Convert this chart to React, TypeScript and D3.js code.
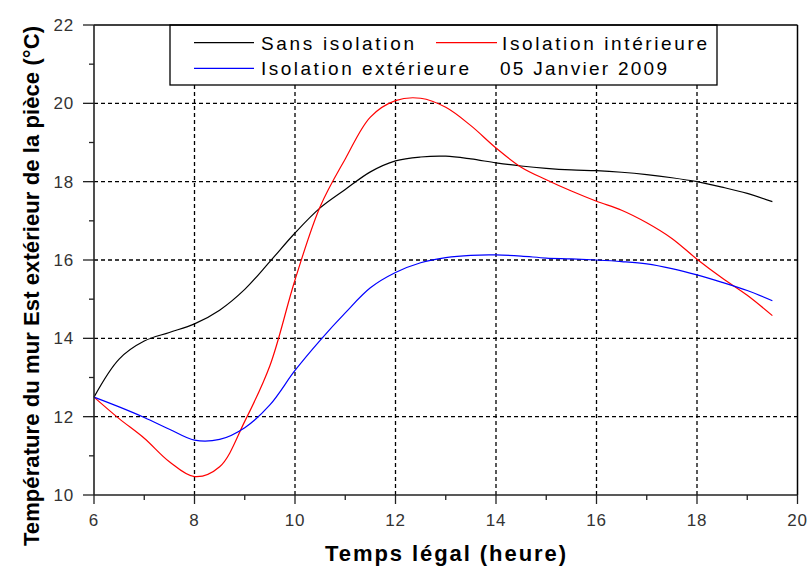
import React from "react";
import * as d3 from "d3";

const hours = [6, 6.5, 7, 7.5, 8, 8.5, 9, 9.5, 10, 10.5, 11, 11.5, 12, 12.5, 13, 13.5, 14, 14.5, 15, 15.5, 16, 16.5, 17, 17.5, 18, 18.5, 19, 19.5];
const sansIsolation = [12.5, 13.47, 13.93, 14.15, 14.37, 14.72, 15.25, 15.96, 16.69, 17.33, 17.8, 18.25, 18.53, 18.63, 18.65, 18.58, 18.48, 18.4, 18.34, 18.3, 18.28, 18.24, 18.18, 18.1, 18.0, 17.86, 17.7, 17.49];
const isolationInterieure = [12.5, 11.95, 11.45, 10.85, 10.47, 10.72, 11.88, 13.3, 15.49, 17.36, 18.58, 19.65, 20.07, 20.13, 19.9, 19.43, 18.86, 18.37, 18.05, 17.76, 17.5, 17.27, 16.95, 16.55, 16.02, 15.54, 15.1, 14.58];
const isolationExterieure = [12.5, 12.25, 11.98, 11.68, 11.4, 11.42, 11.72, 12.3, 13.18, 13.95, 14.65, 15.29, 15.68, 15.93, 16.06, 16.12, 16.13, 16.1, 16.05, 16.03, 16.0, 15.96, 15.9, 15.78, 15.62, 15.43, 15.22, 14.96];

const xMajorTicks = [6, 8, 10, 12, 14, 16, 18, 20];
const xMinorTicks = [7, 9, 11, 13, 15, 17, 19];
const yMajorTicks = [10, 12, 14, 16, 18, 20, 22];
const yMinorTicks = [11, 13, 15, 17, 19, 21];
const xGrid = [8, 10, 12, 14, 16, 18];
const yGrid = [12, 14, 16, 18, 20];

const seriesNames = ["Sans isolation", "Isolation intérieure", "Isolation extérieure"];
const seriesColors = ["#000000", "#ff0000", "#0000ff"];
const dateLabel = "05 Janvier 2009";
const xTitle = "Temps légal (heure)";
const yTitle = "Température du mur Est extérieur de la pièce (°C)";

const FONT = "'Liberation Sans', Arial, sans-serif";

export default function App() {
  const x = d3.scaleLinear().domain([6, 20]).range([94, 797.5]);
  const y = d3.scaleLinear().domain([10, 22]).range([495, 25]);
  const series = [sansIsolation, isolationInterieure, isolationExterieure];
  const line = d3
    .line<[number, number]>()
    .x((d) => x(d[0]))
    .y((d) => y(d[1]))
    .curve(d3.curveCatmullRom.alpha(0.5));

  const x0 = x(6), x1 = x(20), y0 = y(10), y1 = y(22);

  return (
    <svg width={811} height={572} style={{ position: "absolute", left: 0, top: 0, background: "#fff" }}>
      <rect x={0} y={0} width={811} height={572} fill="#fff" />
      {/* grid */}
      {xGrid.map((v) => (
        <line key={"gx" + v} x1={x(v)} x2={x(v)} y1={y0} y2={y1} stroke="#000" strokeWidth={1.3} strokeDasharray="4,3" />
      ))}
      {yGrid.map((v) => (
        <line key={"gy" + v} x1={x0} x2={x1} y1={y(v)} y2={y(v)} stroke="#000" strokeWidth={1.3} strokeDasharray="4,3" />
      ))}
      {/* series */}
      {series.map((s, i) => (
        <path
          key={"s" + i}
          d={line(hours.map((h, j) => [h, s[j]] as [number, number])) || ""}
          fill="none"
          stroke={seriesColors[i]}
          strokeWidth={1.2}
        />
      ))}
      {/* legend */}
      <rect x={170} y={y1} width={547} height={60} fill="#fff" stroke="#000" strokeWidth={1.3} />
      <line x1={194} x2={254} y1={42.7} y2={42.7} stroke={seriesColors[0]} strokeWidth={1.3} />
      <text x={261} y={49.5} fontFamily={FONT} fontSize={19} fill="#000" textLength={153} lengthAdjust="spacing">{seriesNames[0]}</text>
      <line x1={436} x2={497} y1={42.7} y2={42.7} stroke={seriesColors[1]} strokeWidth={1.3} />
      <text x={502} y={49.5} fontFamily={FONT} fontSize={19} fill="#000" textLength={205} lengthAdjust="spacing">{seriesNames[1]}</text>
      <line x1={194} x2={254} y1={68.3} y2={68.3} stroke={seriesColors[2]} strokeWidth={1.3} />
      <text x={261} y={74.5} fontFamily={FONT} fontSize={19} fill="#000" textLength={208} lengthAdjust="spacing">{seriesNames[2]}</text>
      <text x={500} y={74.5} fontFamily={FONT} fontSize={19} fill="#000" textLength={167} lengthAdjust="spacing">{dateLabel}</text>
      {/* frame */}
      <line x1={x0} x2={x1} y1={y1} y2={y1} stroke="#000" strokeWidth={1.3} />
      <line x1={x1} x2={x1} y1={y1} y2={y0} stroke="#000" strokeWidth={1.5} />
      <line x1={x0} x2={x0} y1={y1} y2={y0} stroke="#222" strokeWidth={1.6} />
      <line x1={x0} x2={x1} y1={y0} y2={y0} stroke="#222" strokeWidth={1.6} />
      {/* y ticks */}
      {yMajorTicks.map((v) => (
        <g key={"yt" + v}>
          <line x1={x0 - 11} x2={x0} y1={y(v)} y2={y(v)} stroke="#222" strokeWidth={1.3} />
          <text x={74} y={y(v)} dy="0.36em" textAnchor="end" fontFamily={FONT} fontSize={17} fill="#333" letterSpacing={0.8}>{v}</text>
        </g>
      ))}
      {yMinorTicks.map((v) => (
        <line key={"ym" + v} x1={x0 - 5} x2={x0} y1={y(v)} y2={y(v)} stroke="#222" strokeWidth={1.3} />
      ))}
      {/* x ticks */}
      {xMajorTicks.map((v) => (
        <g key={"xt" + v}>
          <line x1={x(v)} x2={x(v)} y1={y0} y2={y0 + 9} stroke="#222" strokeWidth={1.3} />
          <text x={x(v)} y={526} textAnchor="middle" fontFamily={FONT} fontSize={17} fill="#333" letterSpacing={0.8}>{v}</text>
        </g>
      ))}
      {xMinorTicks.map((v) => (
        <line key={"xm" + v} x1={x(v)} x2={x(v)} y1={y0} y2={y0 + 5} stroke="#222" strokeWidth={1.3} />
      ))}
      {/* titles */}
      <text x={325} y={561} fontFamily={FONT} fontSize={22} fontWeight="bold" fill="#000" textLength={241} lengthAdjust="spacing">{xTitle}</text>
      <text
        transform={`translate(39, 546) rotate(-90)`}
        x={0}
        y={0}
        fontFamily={FONT}
        fontSize={22}
        fontWeight="bold"
        fill="#000"
        textLength={520}
        lengthAdjust="spacing"
      >
        {yTitle}
      </text>
    </svg>
  );
}
